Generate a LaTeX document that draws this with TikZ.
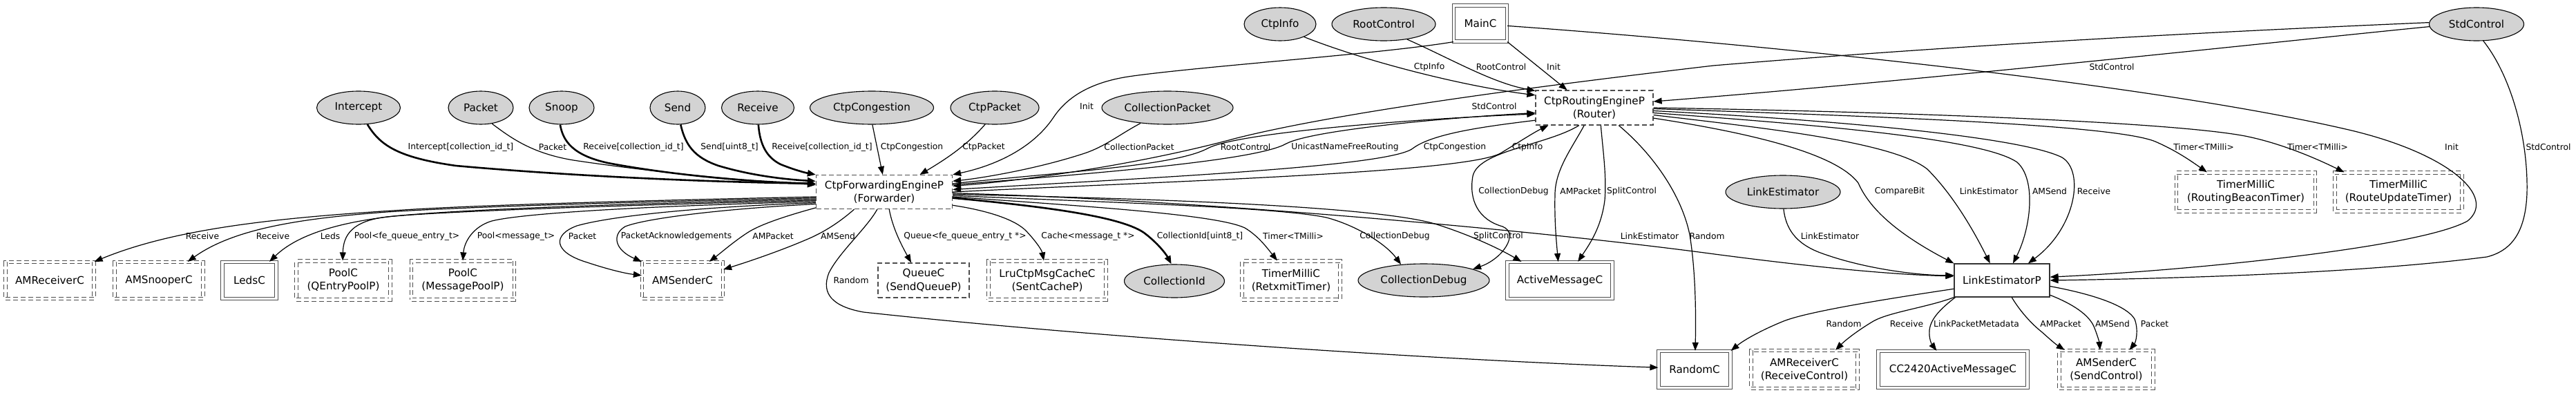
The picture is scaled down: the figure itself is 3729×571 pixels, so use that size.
\documentclass[tikz,border=0pt]{standalone}
\usepackage{fontspec}
\setmainfont{DejaVu Sans}
\usetikzlibrary{arrows.meta,shapes.geometric}
\definecolor{ifgray}{HTML}{D3D3D3}
\definecolor{boxgray}{HTML}{4D4D4D}
\newcommand{\ndfont}{\fontsize{15.2}{19.5}\selectfont}
\newcommand{\lbfont}{\fontsize{12.3}{14}\selectfont}

\begin{document}
\begin{tikzpicture}[x=1pt, y=-1pt, >={Triangle[length=12pt,width=9pt]}, line width=1.2pt,
  iface/.style={ellipse, draw, fill=ifgray, line width=1.1pt, inner sep=0pt, minimum height=48pt, font=\ndfont},
  cbox/.style={rectangle, draw=boxgray, dash pattern=on 7pt off 4pt, inner sep=0pt, font=\ndfont, align=center},
  gbox/.style={cbox, double, double distance=3.5pt},
  mbox/.style={rectangle, draw=boxgray, double, double distance=3.5pt, inner sep=0pt, font=\ndfont, align=center},
  pbox/.style={rectangle, draw=black!80, inner sep=0pt, font=\ndfont},
  wire/.style={->},
  wirep/.style={->, line width=2.6pt},
  lbl/.style={font=\lbfont, inner sep=0pt}]
  \useasboundingbox (0,0) rectangle (3729,571);
  % interfaces
  \node[iface, minimum width=104pt] (ctpinfo) at (1853,35) {CtpInfo};
  \node[iface, minimum width=150pt] (rootctl) at (2003,35) {RootControl};
  \node[iface, minimum width=137pt] (stdctl) at (3585,35) {StdControl};
  \node[iface, minimum width=121pt] (intercept) at (519,156) {Intercept};
  \node[iface, minimum width=94pt] (packet) at (696,156) {Packet};
  \node[iface, minimum width=94pt] (snoop) at (813,156) {Snoop};
  \node[iface, minimum width=80pt] (send) at (981,156) {Send};
  \node[iface, minimum width=105pt] (receive) at (1097,156) {Receive};
  \node[iface, minimum width=179pt] (congestion) at (1262,156) {CtpCongestion};
  \node[iface, minimum width=128pt] (ctppacket) at (1440,156) {CtpPacket};
  \node[iface, minimum width=190pt] (collpacket) at (1690,156) {CollectionPacket};
  \node[iface, minimum width=166pt] (linkest) at (2581,278) {LinkEstimator};
  \node[iface, minimum width=145pt] (collid) at (1700,407) {CollectionId};
  \node[iface, minimum width=190pt] (colldbg) at (2061,406) {CollectionDebug};
  % componentes
  \node[mbox, minimum width=77pt, minimum height=52pt] (mainc) at (2143,34) {MainC};
  \node[cbox, minimum width=170pt, minimum height=50pt] (router) at (2308,156) {CtpRoutingEngineP\\(Router)};
  \node[cbox, minimum width=197pt, minimum height=49pt] (fwd) at (1280,278) {CtpForwardingEngineP\\(Forwarder)};
  \node[gbox, minimum width=201pt, minimum height=56pt] (trbt) at (3251,278) {TimerMilliC\\(RoutingBeaconTimer)};
  \node[gbox, minimum width=184pt, minimum height=56pt] (trut) at (3472,278) {TimerMilliC\\(RouteUpdateTimer)};
  \node[gbox, minimum width=128pt, minimum height=53pt] (amrecv) at (72,406) {AMReceiverC};
  \node[gbox, minimum width=128pt, minimum height=53pt] (amsnoop) at (230,406) {AMSnooperC};
  \node[mbox, minimum width=78pt, minimum height=53pt] (leds) at (361,406) {LedsC};
  \node[gbox, minimum width=136pt, minimum height=56pt] (poolq) at (497,406) {PoolC\\(QEntryPoolP)};
  \node[gbox, minimum width=149pt, minimum height=56pt] (poolm) at (670,406) {PoolC\\(MessagePoolP)};
  \node[gbox, minimum width=117pt, minimum height=53pt] (amsend) at (988,406) {AMSenderC};
  \node[cbox, minimum width=132pt, minimum height=50pt] (queue) at (1337,406) {QueueC\\(SendQueueP)};
  \node[gbox, minimum width=170pt, minimum height=56pt] (cache) at (1516,406) {LruCtpMsgCacheC\\(SentCacheP)};
  \node[gbox, minimum width=142pt, minimum height=56pt] (timerr) at (1869,406) {TimerMilliC\\(RetxmitTimer)};
  \node[mbox, minimum width=152pt, minimum height=53pt] (amc) at (2258,406) {ActiveMessageC};
  \node[pbox, minimum width=138pt, minimum height=48pt] (lep) at (2898,406) {LinkEstimatorP};
  \node[mbox, minimum width=104pt, minimum height=53pt] (randomc) at (2453,535) {RandomC};
  \node[gbox, minimum width=154pt, minimum height=55pt] (amrecvc) at (2612,535) {AMReceiverC\\(ReceiveControl)};
  \node[mbox, minimum width=216pt, minimum height=53pt] (cc2420) at (2827,535) {CC2420ActiveMessageC};
  \node[gbox, minimum width=136pt, minimum height=55pt] (amsendc) at (3049,535) {AMSenderC\\(SendControl)};

  % hacia el forwarder
  \draw[wirep] (intercept.-62) .. controls (550,210) and (575,228) .. (660,240) .. controls (850,257) and (1050,264) .. (fwd.173);
  \draw[wire] (packet.-55) .. controls (740,200) and (770,222) .. (830,232) .. controls (950,250) and (1080,262) .. (fwd.174);
  \draw[wirep] (snoop.-95) .. controls (815,205) and (830,225) .. (880,236) .. controls (980,255) and (1100,264) .. (fwd.173);
  \draw[wirep] (send.-80) .. controls (992,210) and (1005,228) .. (1040,240) .. controls (1090,255) and (1140,260) .. (fwd.171);
  \draw[wirep] (receive.-88) .. controls (1100,210) and (1110,228) .. (1130,238) .. controls (1150,246) and (1165,250) .. (fwd.north west);
  \draw[wire] (congestion.-88) -- (fwd.95);
  \draw[wire] (ctppacket.-120) .. controls (1400,210) and (1370,230) .. (fwd.26);
  \draw[wire] (mainc.south west) .. controls (2000,78) and (1750,95) .. (1640,110) .. controls (1580,118) and (1545,140) .. (1525,170) .. controls (1495,215) and (1440,240) .. (fwd.north east);
  \draw[wire] (collpacket.-150) .. controls (1620,195) and (1600,212) .. (1570,222) .. controls (1500,245) and (1420,258) .. (fwd.9);
  \draw[wire] (stdctl.178) .. controls (3300,42) and (2900,60) .. (2480,95) .. controls (2250,122) and (1950,160) .. (1790,200) .. controls (1650,238) and (1480,262) .. (fwd.5);
  \draw[wire] (router.192) .. controls (2160,182) and (2075,192) .. (2045,215) .. controls (2010,242) and (1650,258) .. (fwd.2);
  % hacia el router
  \draw[wire] (fwd.7) .. controls (1550,248) and (1700,240) .. (1748,215) .. controls (1790,192) and (2050,172) .. (router.186);
  \draw[wire] (fwd.6) .. controls (1600,250) and (1820,232) .. (1862,208) .. controls (1900,188) and (2100,170) .. (router.185);
  \draw[wire] (fwd.0) .. controls (1700,262) and (2120,250) .. (2172,222) .. controls (2200,205) and (2220,192) .. (router.201);
  \draw[wire] (ctpinfo.-28) .. controls (1980,90) and (2120,125) .. (router.168);
  \draw[wire] (rootctl.-33) .. controls (2100,85) and (2160,120) .. (router.164);
  \draw[wire] (mainc.south east) -- (router.147);
  \draw[wire] (stdctl.183) .. controls (3300,60) and (2800,115) .. (router.6);
  % salidas del router
  \draw[wire] (router.229) .. controls (2240,210) and (2140,218) .. (2132,255) .. controls (2126,290) and (2140,318) .. (2175,328) .. controls (2200,338) and (2175,375) .. (colldbg.13);
  \draw[wire] (router.-120) .. controls (2275,215) and (2252,245) .. (2251,280) .. controls (2250,320) and (2253,350) .. (amc.95);
  \draw[wire] (router.-70) .. controls (2320,215) and (2326,255) .. (2323,290) .. controls (2318,330) and (2300,355) .. (amc.46);
  \draw[wire] (router.-36) .. controls (2395,225) and (2435,285) .. (2446,340) .. controls (2455,395) and (2455,460) .. (randomc.88);
  \draw[wire] (router.-10) .. controls (2550,195) and (2660,225) .. (2690,265) .. controls (2702,292) and (2730,330) .. (lep.north west);
  \draw[wire] (router.-7) .. controls (2550,185) and (2740,205) .. (2790,245) .. controls (2830,285) and (2860,340) .. (lep.125);
  \draw[wire] (router.-5) .. controls (2620,180) and (2870,200) .. (2920,235) .. controls (2948,260) and (2940,330) .. (lep.57);
  \draw[wire] (router.-3) .. controls (2680,175) and (2930,200) .. (2985,228) .. controls (3018,248) and (3005,330) .. (lep.33);
  \draw[wire] (router.-1) .. controls (2700,168) and (3060,180) .. (3120,205) .. controls (3150,218) and (3170,232) .. (trbt.153);
  \draw[wire] (router.0) .. controls (2800,163) and (3150,178) .. (3250,197) .. controls (3300,207) and (3350,228) .. (trut.160);
  % salidas del forwarder
  \draw[wire] (fwd.184) .. controls (950,290) and (720,296) .. (600,303) .. controls (420,314) and (260,328) .. (amrecv.north east);
  \draw[wire] (fwd.185) .. controls (950,292) and (700,298) .. (560,307) .. controls (440,316) and (340,330) .. (amsnoop.33);
  \draw[wire] (fwd.186) .. controls (950,294) and (680,302) .. (570,313) .. controls (490,322) and (430,340) .. (leds.43);
  \draw[wire] (fwd.187) .. controls (950,296) and (650,305) .. (560,314) .. controls (510,320) and (497,340) .. (poolq.92);
  \draw[wire] (fwd.188) .. controls (950,298) and (760,308) .. (712,320) .. controls (685,328) and (672,350) .. (poolm.north);
  \draw[wire] (fwd.189) .. controls (1000,300) and (880,314) .. (835,327) .. controls (800,340) and (800,365) .. (850,380) .. controls (880,390) and (905,396) .. (amsend.173);
  \draw[wire] (fwd.190) .. controls (1050,302) and (935,316) .. (905,328) .. controls (885,340) and (890,362) .. (amsend.north west);
  \draw[wire] (fwd.193) .. controls (1140,312) and (1100,325) .. (1082,337) .. controls (1062,350) and (1045,365) .. (amsend.35);
  \draw[wire] (fwd.210) .. controls (1215,322) and (1192,337) .. (1165,348) .. controls (1125,365) and (1080,380) .. (amsend.15);
  \draw[wire] (fwd.248) .. controls (1255,330) and (1215,365) .. (1200,395) .. controls (1188,425) and (1205,444) .. (1250,452) .. controls (1600,490) and (2100,522) .. (randomc.177);
  \draw[wire] (fwd.-74) .. controls (1292,330) and (1305,355) .. (queue.125);
  \draw[wire] (fwd.-11) .. controls (1430,305) and (1470,318) .. (1486,335) .. controls (1500,350) and (1508,362) .. (cache.100);
  \draw[wirep] (fwd.-5) .. controls (1500,298) and (1620,312) .. (1656,337) .. controls (1676,352) and (1688,368) .. (collid.100);
  \draw[wire] (fwd.-4) .. controls (1560,298) and (1760,310) .. (1802,330) .. controls (1822,342) and (1835,360) .. (timerr.125);
  \draw[wire] (fwd.-3) .. controls (1600,293) and (1850,300) .. (1920,315) .. controls (1962,326) and (2005,352) .. (colldbg.145);
  \draw[wire] (fwd.-2) .. controls (1700,288) and (2000,300) .. (2080,325) .. controls (2130,341) and (2170,360) .. (amc.154);
  \draw[wire] (fwd.-1) .. controls (1700,288) and (2200,330) .. (2482,368) .. controls (2650,390) and (2750,398) .. (lep.175);
  % hacia LinkEstimatorP
  \draw[wire] (linkest.-88) .. controls (2585,330) and (2598,352) .. (2635,366) .. controls (2700,390) and (2780,399) .. (lep.174);
  \draw[wire] (mainc.-5) .. controls (2500,60) and (3100,118) .. (3400,188) .. controls (3545,222) and (3615,285) .. (3572,320) .. controls (3500,360) and (3150,393) .. (lep.4);
  \draw[wire] (stdctl.-68) .. controls (3635,110) and (3660,200) .. (3658,280) .. controls (3656,330) and (3640,362) .. (3600,372) .. controls (3400,398) and (3100,404) .. (lep.east);
  % salidas de LinkEstimatorP
  \draw[wire] (lep.190) .. controls (2750,430) and (2620,450) .. (2582,465) .. controls (2550,478) and (2525,492) .. (randomc.north east);
  \draw[wire] (lep.south west) .. controls (2790,445) and (2735,452) .. (2712,465) .. controls (2690,478) and (2672,492) .. (amrecvc.32);
  \draw[wire] (lep.-160) .. controls (2812,445) and (2795,460) .. (2793,478) .. controls (2792,490) and (2796,498) .. (cc2420.131);
  \draw[wire] (lep.-60) .. controls (2925,452) and (2942,470) .. (2956,481) .. controls (2966,490) and (2975,498) .. (amsendc.155);
  \draw[wire] (lep.-17) .. controls (3000,440) and (3025,456) .. (3032,475) .. controls (3037,488) and (3039,496) .. (amsendc.108);
  \draw[wire] (lep.-7) .. controls (3040,428) and (3080,445) .. (3090,462) .. controls (3096,478) and (3092,495) .. (amsendc.40);

  % etiquetas
  \node[lbl] (l-ctpinfo) at (2069,97) {CtpInfo};
  \node[lbl] (l-rootctl) at (2173,97) {RootControl};
  \node[lbl] (l-initr) at (2249,97) {Init};
  \node[lbl] (l-stdr) at (3057,97) {StdControl};
  \node[lbl] (l-initf) at (1573,154) {Init};
  \node[lbl] (l-stdf) at (2163,154) {StdControl};
  \node[lbl] (l-intercept) at (667,213) {Intercept[collection\_id\_t]};
  \node[lbl] (l-packet) at (800,213) {Packet};
  \node[lbl] (l-snoop) at (917,213) {Receive[collection\_id\_t]};
  \node[lbl] (l-send) at (1056,213) {Send[uint8\_t]};
  \node[lbl] (l-receive) at (1190,213) {Receive[collection\_id\_t]};
  \node[lbl] (l-congestion) at (1320,213) {CtpCongestion};
  \node[lbl] (l-ctppacket) at (1424,213) {CtpPacket};
  \node[lbl] (l-collpacket) at (1649,213) {CollectionPacket};
  \node[lbl] (l-rootfr) at (1803,213) {RootControl};
  \node[lbl] (l-unicast) at (1947,213) {UnicastNameFreeRouting};
  \node[lbl] (l-congrf) at (2106,213) {CtpCongestion};
  \node[lbl] (l-infofr) at (2211,213) {CtpInfo};
  \node[lbl] (l-trbt) at (3190,213) {Timer<TMilli>};
  \node[lbl] (l-trut) at (3355,213) {Timer<TMilli>};
  \node[lbl] (l-initl) at (3549,213) {Init};
  \node[lbl] (l-stdl) at (3689,213) {StdControl};
  \node[lbl] (l-dbgr) at (2191,277) {CollectionDebug};
  \node[lbl] (l-ampr) at (2288,277) {AMPacket};
  \node[lbl] (l-splitr) at (2362,277) {SplitControl};
  \node[lbl] (l-cmp) at (2750,277) {CompareBit};
  \node[lbl] (l-ler) at (2879,277) {LinkEstimator};
  \node[lbl] (l-amsr) at (2967,277) {AMSend};
  \node[lbl] (l-recvr) at (3031,277) {Receive};
  \node[lbl] (l-amrecv) at (293,342) {Receive};
  \node[lbl] (l-amsnoop) at (395,342) {Receive};
  \node[lbl] (l-leds) at (478,342) {Leds};
  \node[lbl] (l-poolq) at (589,342) {Pool<fe\_queue\_entry\_t>};
  \node[lbl] (l-poolm) at (747,342) {Pool<message\_t>};
  \node[lbl] (l-pktf) at (843,342) {Packet};
  \node[lbl] (l-ack) at (979,342) {PacketAcknowledgements};
  \node[lbl] (l-ampf) at (1119,342) {AMPacket};
  \node[lbl] (l-amsf) at (1213,342) {AMSend};
  \node[lbl] (l-queue) at (1397,342) {Queue<fe\_queue\_entry\_t *>};
  \node[lbl] (l-cache) at (1575,342) {Cache<message\_t *>};
  \node[lbl] (l-collid) at (1737,342) {CollectionId[uint8\_t]};
  \node[lbl] (l-timerr) at (1872,342) {Timer<TMilli>};
  \node[lbl] (l-dbgf) at (2019,342) {CollectionDebug};
  \node[lbl] (l-splitf) at (2169,342) {SplitControl};
  \node[lbl] (l-lef) at (2388,342) {LinkEstimator};
  \node[lbl] (l-randr) at (2471,342) {Random};
  \node[lbl] (l-lel) at (2649,342) {LinkEstimator};
  \node[lbl] (l-randf) at (1232,406) {Random};
  \node[lbl] (l-randl) at (2669,469) {Random};
  \node[lbl] (l-recvl) at (2760,469) {Receive};
  \node[lbl] (l-meta) at (2861,469) {LinkPacketMetadata};
  \node[lbl] (l-ampl) at (2983,469) {AMPacket};
  \node[lbl] (l-amsl) at (3058,469) {AMSend};
  \node[lbl] (l-pktl) at (3119,469) {Packet};
\end{tikzpicture}
\end{document}
